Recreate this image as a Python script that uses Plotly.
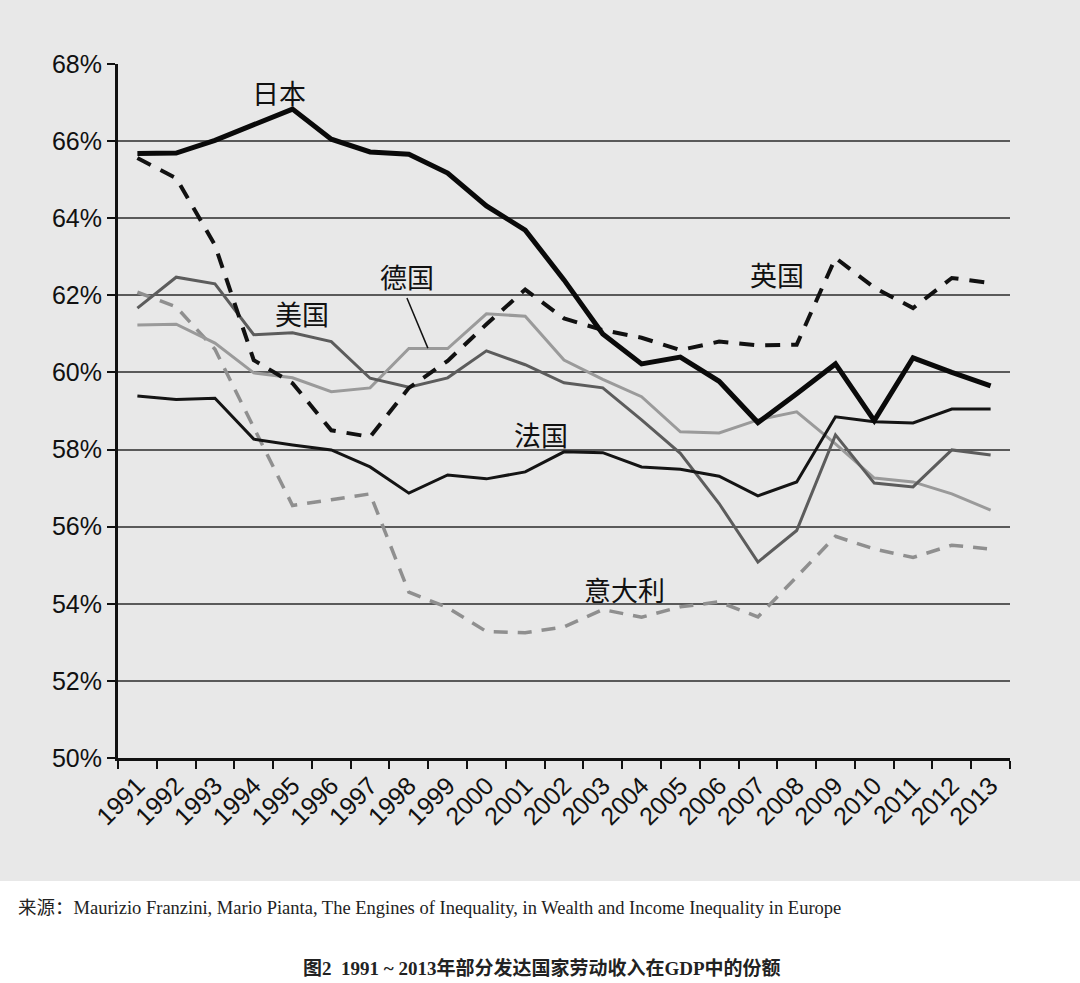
import plotly.graph_objects as go

years = [str(y) for y in range(1991, 2014)]
japan = [65.68, 65.69, 66.02, 66.42, 66.83, 66.05, 65.72, 65.66, 65.17, 64.32, 63.69, 62.4,
         61.0, 60.22, 60.4, 59.77, 58.7, 59.45, 60.22, 58.75, 60.38, 60.0, 59.65]
uk = [65.56, 65.04, 63.3, 60.32, 59.72, 58.5, 58.33, 59.6, 60.3, 61.25, 62.15, 61.4,
      61.1, 60.9, 60.58, 60.8, 60.7, 60.72, 62.97, 62.2, 61.67, 62.45, 62.32]
france = [59.39, 59.3, 59.33, 58.27, 58.12, 57.99, 57.55, 56.87, 57.34, 57.24, 57.42, 57.94,
          57.92, 57.55, 57.49, 57.31, 56.8, 57.16, 58.85, 58.72, 58.69, 59.05, 59.05]
usa = [61.67, 62.47, 62.3, 60.98, 61.03, 60.8, 59.85, 59.62, 59.86, 60.56, 60.2, 59.73,
       59.6, 58.77, 57.9, 56.6, 55.08, 55.9, 58.38, 57.13, 57.03, 57.99, 57.86]
germany = [61.23, 61.25, 60.76, 59.99, 59.86, 59.5, 59.6, 60.62, 60.62, 61.52, 61.46, 60.32,
           59.82, 59.37, 58.46, 58.43, 58.77, 58.98, 58.15, 57.26, 57.16, 56.85, 56.43]
italy = [62.08, 61.7, 60.6, 58.6, 56.55, 56.7, 56.85, 54.3, 53.9, 53.28, 53.25, 53.4,
         53.85, 53.65, 53.92, 54.05, 53.66, 54.7, 55.75, 55.42, 55.2, 55.52, 55.42]

y_ticks = [50, 52, 54, 56, 58, 60, 62, 64, 66, 68]
y_labels = [f"{v}%" for v in y_ticks]

BG = "#e8e8e8"
fig = go.Figure()

def add(vals, color, width, dash="solid"):
    fig.add_trace(go.Scatter(x=years, y=vals, mode="lines",
                             line=dict(color=color, width=width, dash=dash),
                             hoverinfo="skip", showlegend=False))

add(italy, "#8f8f8f", 3.5, "14px,10px")
add(germany, "#9a9a9a", 3)
add(usa, "#5c5c5c", 3)
add(france, "#141414", 3)
add(uk, "#111111", 4, "15px,11px")
add(japan, "#0a0a0a", 5)

tick_font = dict(family="Liberation Sans Narrow, Arial Narrow, Liberation Sans, Arial", size=25, color="#111")
fig.update_xaxes(type="category", range=[-0.5, 22.5], tickson="boundaries",
                 ticks="outside", ticklen=8, tickwidth=2, tickcolor="#111",
                 showline=True, linecolor="#111", linewidth=3,
                 showgrid=False, tickangle=-45, tickfont=tick_font, zeroline=False)
fig.update_yaxes(range=[50, 68], tickvals=y_ticks, ticktext=y_labels,
                 ticks="outside", ticklen=8, tickwidth=2, tickcolor="#111",
                 showline=True, linecolor="#111", linewidth=3,
                 showgrid=True, gridcolor="#5a5a5a", gridwidth=1.6,
                 tickfont=tick_font, zeroline=False)

cjk = dict(family="Noto Sans CJK SC", size=27, color="#111")
labels = [("日本", 3.65, 67.27), ("美国", 4.24, 61.54), ("德国", 6.95, 62.48),
          ("英国", 16.48, 62.55), ("法国", 10.4, 58.38), ("意大利", 12.56, 54.36)]
for t, x, y in labels:
    fig.add_annotation(x=x, y=y, xref="x", yref="y", text=t, showarrow=False, font=cjk)

# leader line for Germany label
fig.add_shape(type="line", xref="x", yref="y", x0=6.95, y0=61.93, x1=7.49, y1=60.63,
              line=dict(color="#111", width=1.5))

# white lower band
fig.add_shape(type="rect", xref="paper", yref="paper", x0=-0.2, x1=1.2, y0=-0.5, y1=-0.1772,
              fillcolor="white", line=dict(width=0), layer="below")

fig.add_annotation(xref="paper", yref="paper", x=-0.114, y=-0.2162, xanchor="left", yanchor="middle",
                   text="来源：Maurizio Franzini, Mario Pianta, The Engines of Inequality, in Wealth and Income Inequality in Europe",
                   showarrow=False, font=dict(family="Liberation Serif, Noto Sans CJK SC", size=18.5, color="#222"))
fig.add_annotation(xref="paper", yref="paper", x=0.4753, y=-0.3026, xanchor="center", yanchor="middle",
                   text="<b>图2  1991 ~ 2013年部分发达国家劳动收入在GDP中的份额</b>",
                   showarrow=False, font=dict(family="Liberation Serif, Noto Sans CJK SC", size=19, color="#222"))

fig.update_layout(width=1080, height=983, paper_bgcolor=BG, plot_bgcolor=BG,
                  margin=dict(l=118, r=70, t=64, b=225), showlegend=False)
fig.write_html("out.html", config={"displayModeBar": False},
               post_script="document.body.style.margin='0';document.body.style.padding='0';document.body.style.overflow='hidden';")
